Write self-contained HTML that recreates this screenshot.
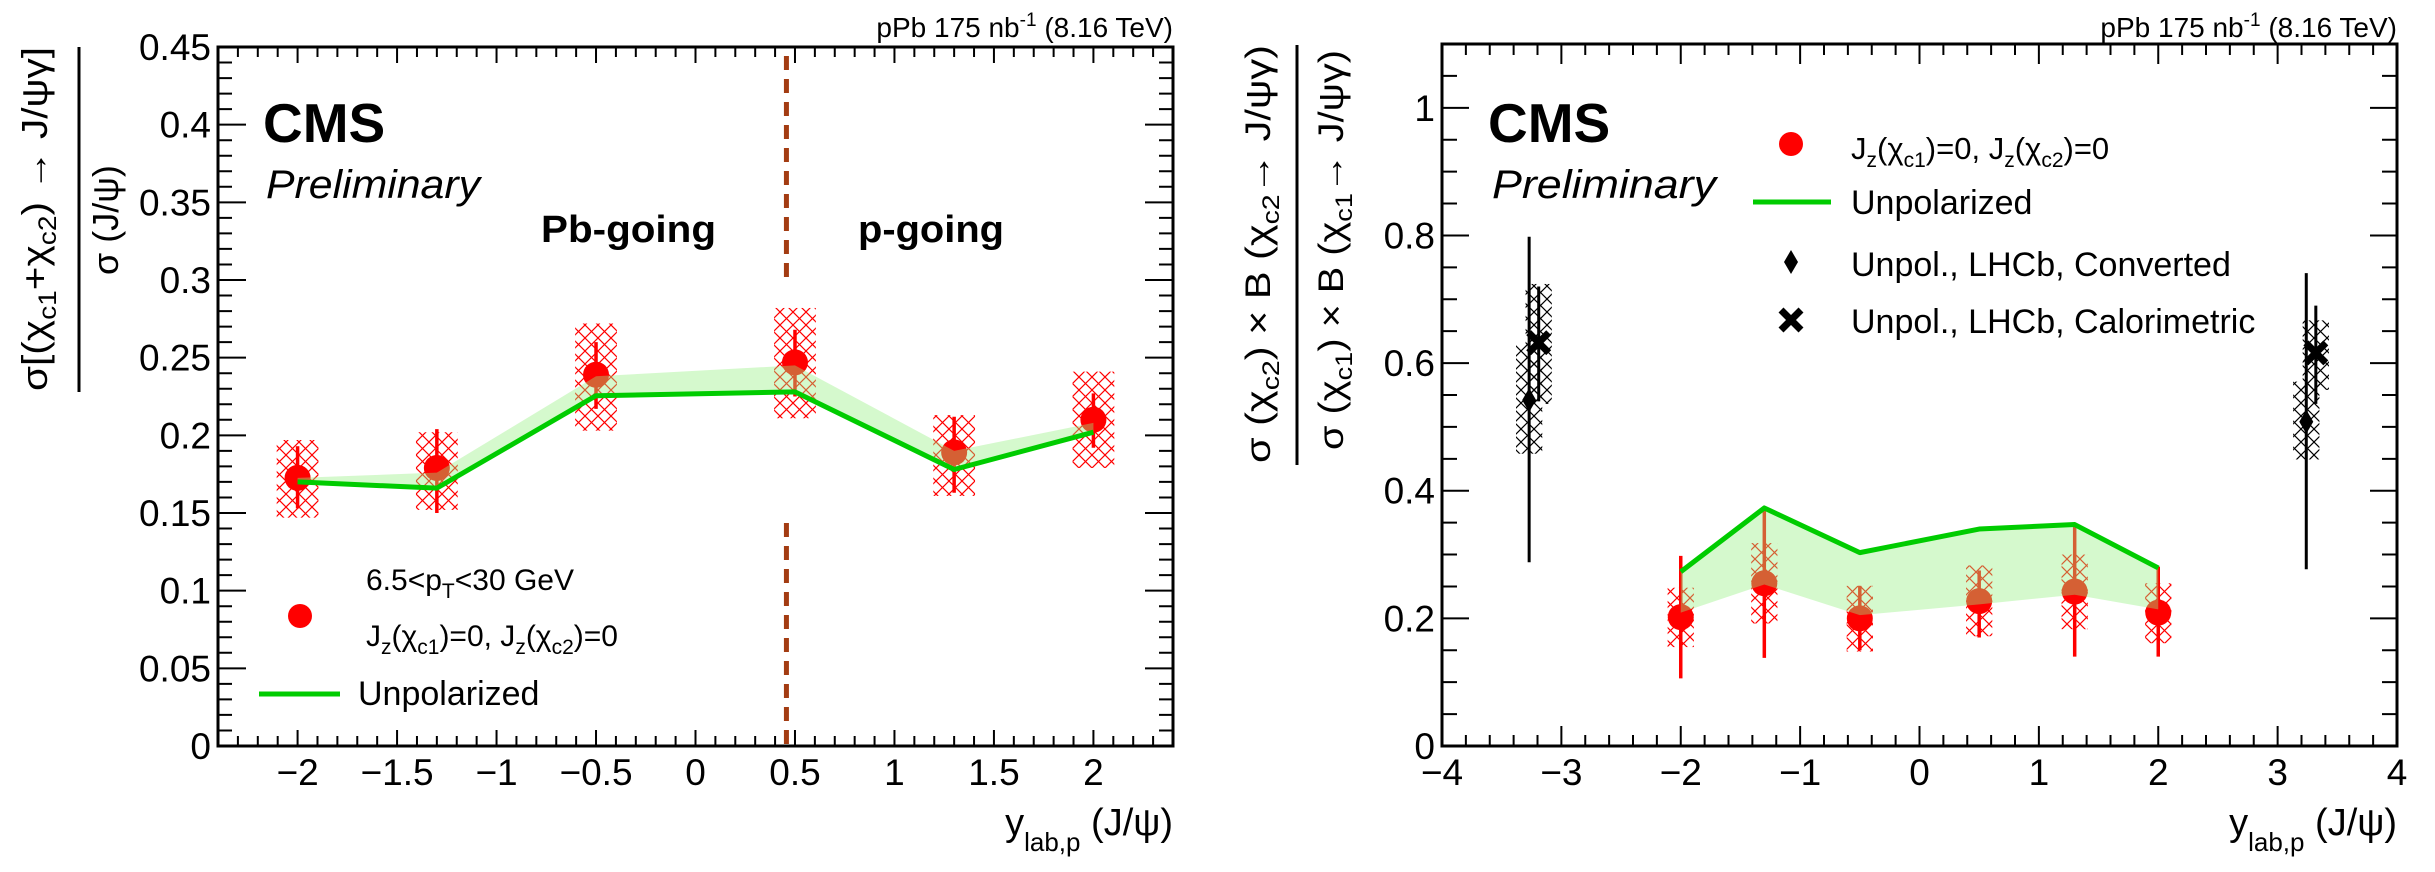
<!DOCTYPE html>
<html><head><meta charset="utf-8"><style>
html,body{margin:0;padding:0;background:#fff;}
svg{display:block;font-family:"Liberation Sans",sans-serif;}
</style></head><body>
<svg id="svg" width="2435" height="872" viewBox="0 0 2435 872" xmlns="http://www.w3.org/2000/svg">
<defs>
<pattern id="hatchRed" patternUnits="userSpaceOnUse" width="13" height="13"><path d="M0,0L13,13M13,0L0,13" stroke="#ff0000" stroke-width="1.2" fill="none"/></pattern>
<pattern id="hatchBlack" patternUnits="userSpaceOnUse" width="13" height="13"><path d="M0,0L13,13M13,0L0,13" stroke="#000" stroke-width="1.2" fill="none"/></pattern>
</defs>
<g id="left"></g>
<g id="right"></g>

<!-- Left static text -->
<text x="1173" y="37" font-size="28" text-anchor="end">pPb 175 nb<tspan dy="-11" font-size="19">-1</tspan><tspan dy="11"> (8.16 TeV)</tspan></text>
<text x="263" y="142" font-size="55" font-weight="bold">CMS</text>
<text x="266" y="198" font-size="40" font-style="italic" textLength="214" lengthAdjust="spacingAndGlyphs">Preliminary</text>
<text x="541" y="242" font-size="38" font-weight="bold" textLength="175" lengthAdjust="spacingAndGlyphs">Pb-going</text>
<text x="858" y="242" font-size="38" font-weight="bold" textLength="146" lengthAdjust="spacingAndGlyphs">p-going</text>
<g>
<circle cx="300" cy="616" r="12" fill="#ff0000"/>
<text x="366" y="590" font-size="30">6.5&lt;p<tspan dy="8" font-size="21">T</tspan><tspan dy="-8">&lt;30 GeV</tspan></text>
<text x="366" y="646" font-size="30">J<tspan dy="8" font-size="21">z</tspan><tspan dy="-8">(χ</tspan><tspan dy="8" font-size="21">c1</tspan><tspan dy="-8">)=0, J</tspan><tspan dy="8" font-size="21">z</tspan><tspan dy="-8">(χ</tspan><tspan dy="8" font-size="21">c2</tspan><tspan dy="-8">)=0</tspan></text>
<line x1="259" y1="694" x2="340" y2="694" stroke="#00cc00" stroke-width="5"/>
<text x="358" y="705" font-size="34">Unpolarized</text>
</g>
<text x="1173" y="835" font-size="38" text-anchor="end">y<tspan dy="16" font-size="26">lab,p</tspan><tspan dy="-16"> (J/ψ)</tspan></text>
<g>
<text transform="translate(47,219) rotate(-90)" font-size="36" text-anchor="middle" textLength="344" lengthAdjust="spacingAndGlyphs">σ[(χ<tspan dy="9" font-size="25">c1</tspan><tspan dy="-9">+χ</tspan><tspan dy="9" font-size="25">c2</tspan><tspan dy="-9">) → J/ψγ]</tspan></text>
<line x1="79" y1="47" x2="79" y2="392" stroke="#000" stroke-width="3"/>
<text transform="translate(118,220) rotate(-90)" font-size="36" text-anchor="middle">σ (J/ψ)</text>
</g>

<!-- Right static text -->
<text x="2397" y="37" font-size="28" text-anchor="end">pPb 175 nb<tspan dy="-11" font-size="19">-1</tspan><tspan dy="11"> (8.16 TeV)</tspan></text>
<text x="1488" y="142" font-size="55" font-weight="bold">CMS</text>
<text x="1492" y="198" font-size="40" font-style="italic" textLength="224" lengthAdjust="spacingAndGlyphs">Preliminary</text>
<g>
<circle cx="1791" cy="144" r="12" fill="#ff0000"/>
<text x="1851" y="159" font-size="31">J<tspan dy="8" font-size="21">z</tspan><tspan dy="-8">(χ</tspan><tspan dy="8" font-size="21">c1</tspan><tspan dy="-8">)=0, J</tspan><tspan dy="8" font-size="21">z</tspan><tspan dy="-8">(χ</tspan><tspan dy="8" font-size="21">c2</tspan><tspan dy="-8">)=0</tspan></text>
<line x1="1753" y1="202" x2="1831" y2="202" stroke="#00cc00" stroke-width="5"/>
<text x="1851" y="214" font-size="34">Unpolarized</text>
<path d="M1791,250L1798,262L1791,274L1784,262Z" fill="#000"/>
<text x="1851" y="276" font-size="34">Unpol., LHCb, Converted</text>
<path d="M1781,310L1801,330M1801,310L1781,330" stroke="#000" stroke-width="7"/>
<text x="1851" y="333" font-size="34">Unpol., LHCb, Calorimetric</text>
</g>
<text x="2397" y="835" font-size="38" text-anchor="end">y<tspan dy="16" font-size="26">lab,p</tspan><tspan dy="-16"> (J/ψ)</tspan></text>
<g>
<text transform="translate(1270,254) rotate(-90)" font-size="35" text-anchor="middle" textLength="418" lengthAdjust="spacingAndGlyphs">σ (χ<tspan dy="9" font-size="24">c2</tspan><tspan dy="-9">) × B (χ</tspan><tspan dy="9" font-size="24">c2</tspan><tspan dy="-9">→ J/ψγ)</tspan></text>
<line x1="1297" y1="45" x2="1297" y2="465" stroke="#000" stroke-width="3"/>
<text transform="translate(1343,250) rotate(-90)" font-size="35" text-anchor="middle" textLength="400" lengthAdjust="spacingAndGlyphs">σ (χ<tspan dy="9" font-size="24">c1</tspan><tspan dy="-9">) × B (χ</tspan><tspan dy="9" font-size="24">c1</tspan><tspan dy="-9">→ J/ψγ)</tspan></text>
</g>
</svg>
<script>
// ---------- LEFT CHART DATA ----------
const leftX = [-2, -1.3, -0.5, 0.5, 1.3, 2];
const leftVal = [0.1726, 0.179, 0.239, 0.247, 0.189, 0.210];
const leftStatLo = [0.153, 0.150, 0.217, 0.225, 0.163, 0.192];
const leftStatHi = [0.193, 0.204, 0.260, 0.268, 0.212, 0.227];
const leftSystLo = [0.147, 0.152, 0.203, 0.211, 0.161, 0.179];
const leftSystHi = [0.197, 0.202, 0.272, 0.282, 0.213, 0.241];
const leftUnpol = [0.170, 0.166, 0.2255, 0.228, 0.178, 0.202];
const leftUnpolHi = [0.1726, 0.176, 0.238, 0.245, 0.190, 0.208];
const leftXTicks = [-2, -1.5, -1, -0.5, 0, 0.5, 1, 1.5, 2];
const leftXTickLabels = ["\u22122", "\u22121.5", "\u22121", "\u22120.5", "0", "0.5", "1", "1.5", "2"];
const leftYTicks = [0, 0.05, 0.1, 0.15, 0.2, 0.25, 0.3, 0.35, 0.4, 0.45];
const leftYTickLabels = ["0", "0.05", "0.1", "0.15", "0.2", "0.25", "0.3", "0.35", "0.4", "0.45"];
const leftDivider = [0.457];

// ---------- RIGHT CHART DATA ----------
const rightX = [-2, -1.3, -0.5, 0.5, 1.3, 2];
const rightVal = [0.202, 0.255, 0.200, 0.227, 0.242, 0.209];
const rightStatLo = [0.106, 0.138, 0.150, 0.170, 0.140, 0.140];
const rightStatHi = [0.298, 0.375, 0.251, 0.275, 0.344, 0.281];
const rightSystLo = [0.155, 0.192, 0.148, 0.172, 0.183, 0.161];
const rightSystHi = [0.248, 0.318, 0.251, 0.283, 0.300, 0.255];
const rightUnpol = [0.273, 0.373, 0.303, 0.340, 0.347, 0.279];
const rightUnpolLo = [0.209, 0.253, 0.205, 0.222, 0.237, 0.214];
const convX = [-3.27, 3.24];
const convVal = [0.542, 0.508];
const convStatLo = [0.288, 0.277];
const convStatHi = [0.798, 0.741];
const convSystLo = [0.458, 0.449];
const convSystHi = [0.628, 0.571];
const caloX = [-3.19, 3.32];
const caloVal = [0.632, 0.616];
const caloStatLo = [0.540, 0.536];
const caloStatHi = [0.720, 0.690];
const caloSystLo = [0.536, 0.558];
const caloSystHi = [0.724, 0.667];
const rightXTicks = [-4, -3, -2, -1, 0, 1, 2, 3, 4];
const rightXTickLabels = ["\u22124", "\u22123", "\u22122", "\u22121", "0", "1", "2", "3", "4"];
const rightYTicks = [0, 0.2, 0.4, 0.6, 0.8, 1];
const rightYTickLabels = ["0", "0.2", "0.4", "0.6", "0.8", "1"];

const NS = "http://www.w3.org/2000/svg";
function mk(parent, tag, attrs) {
  const e = document.createElementNS(NS, tag);
  for (const k in attrs) e.setAttribute(k, attrs[k]);
  parent.appendChild(e);
  return e;
}

function drawChart(g, cfg) {
  const sx = v => cfg.x0 + (v - cfg.xmin) / (cfg.xmax - cfg.xmin) * (cfg.x1 - cfg.x0);
  const sy = v => cfg.y0 - (v - cfg.ymin) / (cfg.ymax - cfg.ymin) * (cfg.y0 - cfg.y1);
  const tk = mk(g, "g", {});
  
  
  let d = "";
  const nx = Math.round((cfg.xmax - cfg.xmin) / cfg.xminor);
  for (let i = 0; i <= nx; i++) {
    const v = cfg.xmin + i * cfg.xminor;
    const major = Math.abs(v / cfg.xmajor - Math.round(v / cfg.xmajor)) < 1e-6;
    const L = major ? cfg.xMajLen : cfg.xMinLen;
    const px = sx(v);
    d += `M${px},${cfg.y0}V${cfg.y0 - L}M${px},${cfg.y1}V${cfg.y1 + L}`;
  }
  const ny = Math.round((cfg.ymax - cfg.ymin) / cfg.yminor);
  for (let i = 0; i <= ny; i++) {
    const v = cfg.ymin + i * cfg.yminor;
    const major = Math.abs(v / cfg.ymajor - Math.round(v / cfg.ymajor)) < 1e-6;
    const L = major ? cfg.yMajLen : cfg.yMinLen;
    const py = sy(v);
    d += `M${cfg.x0},${py}H${cfg.x0 + L}M${cfg.x1},${py}H${cfg.x1 - L}`;
  }
  mk(tk, "path", {d: d, stroke: "#000", "stroke-width": 2, fill: "none"});
  cfg.xTicks.forEach((v, i) => {
    const t = mk(g, "text", {x: sx(v), y: 785, "font-size": 37, "text-anchor": "middle"});
    t.textContent = cfg.xLabels[i];
    
    
  });
  cfg.yTicks.forEach((v, i) => {
    const t = mk(g, "text", {x: cfg.x0 - 7, y: sy(v) + 13, "font-size": 37, "text-anchor": "end"});
    t.textContent = cfg.yLabels[i];
    
    
  });
  return {sx, sy};
}

function drawSeries(g, sx, sy, xs, val, slo, shi, ylo, yhi, hw, hatch, color, r, prefix) {
  xs.forEach((x, i) => {
    const b = mk(g, "rect", {x: sx(x - hw), y: sy(yhi[i]), width: sx(x + hw) - sx(x - hw), height: sy(ylo[i]) - sy(yhi[i]), fill: hatch});
    
    
    const l = mk(g, "line", {x1: sx(x), x2: sx(x), y1: sy(slo[i]), y2: sy(shi[i]), stroke: color, "stroke-width": 3.5});
    
    
    const c = mk(g, "circle", {cx: sx(x), cy: sy(val[i]), r: r, fill: color});
    
    
  });
}

function drawBand(g, sx, sy, xs, a, b, name) {
  let pts = xs.map((x, i) => `${sx(x)},${sy(a[i])}`);
  for (let i = xs.length - 1; i >= 0; i--) pts.push(`${sx(xs[i])},${sy(b[i])}`);
  const p = mk(g, "polygon", {points: pts.join(" "), fill: "rgb(150,240,130)", "fill-opacity": 0.4});
  
  
  const l = mk(g, "polyline", {points: xs.map((x, i) => `${sx(x)},${sy(a[i])}`).join(" "), fill: "none", stroke: "#00cc00", "stroke-width": 5, "stroke-linejoin": "round"});
  
  
}

// LEFT
const gL = document.getElementById("left");
const L = drawChart(gL, {prefix: "left", x0: 218, x1: 1173, y0: 746, y1: 47, xmin: -2.4, xmax: 2.4, ymin: 0, ymax: 0.45,
  xminor: 0.1, xmajor: 0.5, yminor: 0.01, ymajor: 0.05, xMajLen: 16, xMinLen: 10, yMajLen: 28, yMinLen: 14,
  xTicks: leftXTicks, xLabels: leftXTickLabels, yTicks: leftYTicks, yLabels: leftYTickLabels});
leftDivider.forEach(v => {
  const dl = mk(gL, "path", {d: `M${L.sx(v)},56V281M${L.sx(v)},523V746`, stroke: "#a33c12", "stroke-width": 5, "stroke-dasharray": "14 9"});
  
  
});
drawSeries(gL, L.sx, L.sy, leftX, leftVal, leftStatLo, leftStatHi, leftSystLo, leftSystHi, 0.105, "url(#hatchRed)", "#ff0000", 13, "left-polarized");
drawBand(gL, L.sx, L.sy, leftX, leftUnpol, leftUnpolHi, "left-unpolarized");
const fL = mk(gL, "rect", {x: 218, y: 47, width: 955, height: 699, fill: "none", stroke: "#000", "stroke-width": 3});



// RIGHT
const gR = document.getElementById("right");
const R = drawChart(gR, {prefix: "right", x0: 1442, x1: 2397, y0: 746, y1: 44, xmin: -4, xmax: 4, ymin: 0, ymax: 1.1,
  xminor: 0.2, xmajor: 1, yminor: 0.05, ymajor: 0.2, xMajLen: 20, xMinLen: 11, yMajLen: 27, yMinLen: 15,
  xTicks: rightXTicks, xLabels: rightXTickLabels, yTicks: rightYTicks, yLabels: rightYTickLabels});
drawSeries(gR, R.sx, R.sy, rightX, rightVal, rightStatLo, rightStatHi, rightSystLo, rightSystHi, 0.11, "url(#hatchRed)", "#ff0000", 13, "right-polarized");
drawBand(gR, R.sx, R.sy, rightX, rightUnpol, rightUnpolLo, "right-unpolarized");
convX.forEach((x, i) => {
  const b = mk(gR, "rect", {x: R.sx(x - 0.11), y: R.sy(convSystHi[i]), width: R.sx(x + 0.11) - R.sx(x - 0.11), height: R.sy(convSystLo[i]) - R.sy(convSystHi[i]), fill: "url(#hatchBlack)"});
  
  
  const l = mk(gR, "line", {x1: R.sx(x), x2: R.sx(x), y1: R.sy(convStatLo[i]), y2: R.sy(convStatHi[i]), stroke: "#000", "stroke-width": 3});
  
  
  const cx = R.sx(x), cy = R.sy(convVal[i]);
  const p = mk(gR, "path", {d: `M${cx},${cy - 12}L${cx + 7},${cy}L${cx},${cy + 12}L${cx - 7},${cy}Z`, fill: "#000"});
  
  
});
caloX.forEach((x, i) => {
  const b = mk(gR, "rect", {x: R.sx(x - 0.11), y: R.sy(caloSystHi[i]), width: R.sx(x + 0.11) - R.sx(x - 0.11), height: R.sy(caloSystLo[i]) - R.sy(caloSystHi[i]), fill: "url(#hatchBlack)"});
  
  
  const l = mk(gR, "line", {x1: R.sx(x), x2: R.sx(x), y1: R.sy(caloStatLo[i]), y2: R.sy(caloStatHi[i]), stroke: "#000", "stroke-width": 3});
  
  
  const cx = R.sx(x), cy = R.sy(caloVal[i]);
  const p = mk(gR, "path", {d: `M${cx - 10},${cy - 10}L${cx + 10},${cy + 10}M${cx + 10},${cy - 10}L${cx - 10},${cy + 10}`, stroke: "#000", "stroke-width": 7});
  
  
});
const fR = mk(gR, "rect", {x: 1442, y: 44, width: 955, height: 702, fill: "none", stroke: "#000", "stroke-width": 3});


</script>
</body></html>
